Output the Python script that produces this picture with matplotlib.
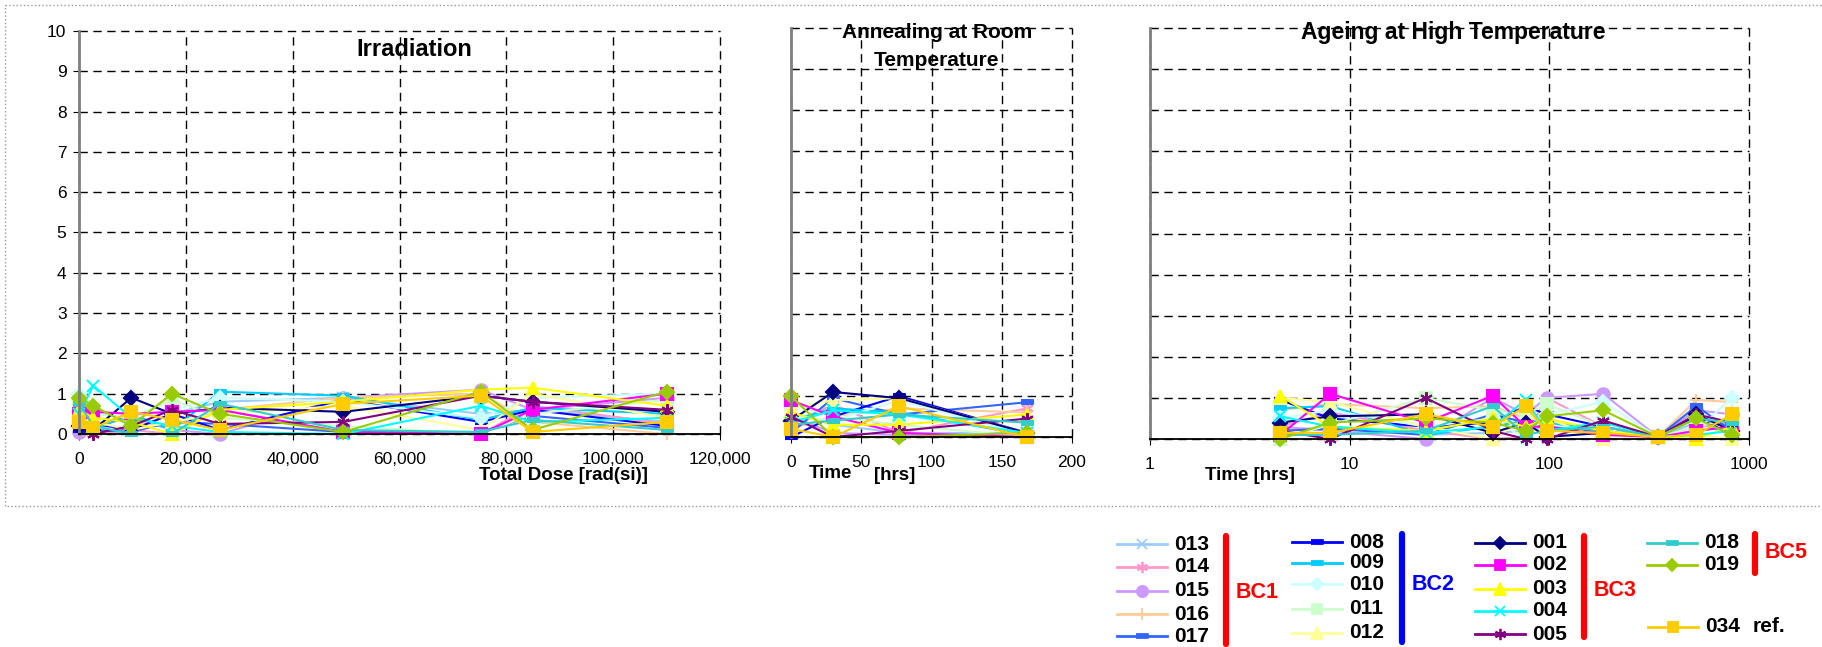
import numpy as np
import matplotlib
matplotlib.use("Agg")
import matplotlib.pyplot as plt
from matplotlib.patches import Rectangle
from matplotlib.ticker import FuncFormatter, NullLocator

plt.rcParams['font.family'] = ['Liberation Sans', 'DejaVu Sans']

# sample names, grouped as in the legend
bc1 = ['013', '014', '015', '016', '017']
bc2 = ['008', '009', '010', '011', '012']
bc3 = ['001', '002', '003', '004', '005']
bc5 = ['018', '019']
ref = ['034']
names = bc1 + bc2 + bc3 + bc5 + ref

# Irradiation: total dose [rad(si)]
dose = [0, 2700, 9800, 17400, 26400, 49500, 75200, 84900, 110100]
irr = {
    '013': [0.6, 0.3, 0.1, 0.5, 0.8, 0.9, 0.5, 0.6, 0.3],
    '014': [0.7, 0.0, 0.1, 0.0, 0.6, 0.05, 0.0, 0.7, 0.25],
    '015': [0.05, 0.2, 0.4, 0.1, 0.0, 0.9, 1.1, 0.6, 0.9],
    '016': [0.5, 0.4, 0.3, 0.2, 0.6, 0.9, 1.0, 0.3, 0.0],
    '017': [0.2, 0.1, 0.05, 0.3, 0.25, 0.05, 0.05, 0.45, 0.15],
    '008': [0.1, 0.25, 0.1, 0.5, 0.1, 0.85, 0.3, 0.6, 0.2],
    '009': [0.3, 0.1, 0.5, 0.1, 1.05, 0.95, 0.35, 0.65, 0.5],
    '010': [1.0, 0.5, 0.4, 0.6, 0.9, 0.8, 0.4, 0.9, 1.0],
    '011': [0.8, 0.5, 0.4, 0.85, 0.4, 0.2, 0.0, 0.5, 0.85],
    '012': [0.4, 0.3, 0.1, 0.3, 0.5, 0.7, 0.1, 1.0, 0.4],
    '001': [0.2, 0.1, 0.9, 0.5, 0.65, 0.55, 0.95, 0.8, 0.55],
    '002': [0.5, 0.55, 0.5, 0.55, 0.6, 0.05, 0.0, 0.6, 1.0],
    '003': [0.6, 0.4, 0.3, 0.0, 0.6, 0.8, 1.1, 1.15, 0.7],
    '004': [0.5, 1.2, 0.4, 0.2, 0.05, 0.0, 0.7, 0.3, 0.4],
    '005': [0.3, 0.0, 0.2, 0.6, 0.25, 0.3, 0.95, 0.8, 0.6],
    '018': [0.75, 0.2, 0.0, 0.0, 0.75, 0.1, 0.05, 0.35, 0.1],
    '019': [0.9, 0.7, 0.2, 1.0, 0.5, 0.05, 1.05, 0.1, 1.05],
    '034': [0.3, 0.15, 0.55, 0.35, 0.1, 0.75, 0.95, 0.05, 0.3],
}

# Annealing at room temperature: time [hrs]
t_ann = [0, 30, 77, 168]
ann = {
    '013': [0.6, 0.3, 0.1, 0.1],
    '014': [0.3, 0.8, 0.1, 0.7],
    '015': [0.5, 0.1, 0.05, 0.05],
    '016': [0.2, 0.5, 0.7, 0.6],
    '017': [0.1, 0.95, 0.55, 0.85],
    '008': [0.0, 0.5, 1.0, 0.1],
    '009': [0.4, 0.7, 0.6, 0.05],
    '010': [0.5, 0.4, 0.9, 0.05],
    '011': [0.8, 0.5, 0.3, 0.0],
    '012': [0.7, 0.9, 0.95, 0.1],
    '001': [0.4, 1.1, 0.95, 0.1],
    '002': [0.9, 0.5, 0.1, 0.0],
    '003': [0.6, 0.3, 0.3, 0.55],
    '004': [0.35, 0.65, 0.55, 0.1],
    '005': [0.5, 0.0, 0.15, 0.45],
    '018': [0.3, 0.4, 0.55, 0.35],
    '019': [1.0, 0.0, 0.0, 0.1],
    '034': [0.2, 0.0, 0.75, 0.0],
}

# Ageing at high temperature: time [hrs], log axis
t_age = [4.5, 8, 24, 52, 76, 97, 186, 350, 545, 820]
age = {
    '013': [0.2, 0.3, 0.1, 0.15, 0.2, 0.3, 0.2, 0.05, 0.4, 0.1],
    '014': [0.3, 0.65, 0.2, 0.0, 0.05, 1.0, 0.3, 0.05, 0.3, 0.4],
    '015': [0.3, 0.2, 0.0, 1.0, 0.6, 1.0, 1.1, 0.05, 0.7, 0.6],
    '016': [0.7, 0.85, 0.75, 0.8, 0.5, 0.4, 0.3, 0.05, 0.95, 0.9],
    '017': [0.2, 0.25, 0.1, 0.6, 0.4, 0.3, 0.15, 0.05, 0.8, 0.2],
    '008': [0.95, 0.5, 0.3, 0.4, 0.8, 0.6, 0.3, 0.05, 0.55, 0.1],
    '009': [0.75, 0.8, 0.1, 0.3, 0.45, 0.4, 0.2, 0.05, 0.2, 0.3],
    '010': [0.5, 0.7, 0.3, 0.5, 0.0, 0.6, 0.9, 0.05, 0.2, 1.0],
    '011': [0.0, 0.35, 1.0, 0.7, 0.6, 0.85, 0.3, 0.05, 0.3, 0.5],
    '012': [1.0, 0.9, 0.3, 0.0, 0.5, 0.5, 0.0, 0.05, 0.1, 0.0],
    '001': [0.4, 0.55, 0.6, 0.15, 0.4, 0.05, 0.15, 0.05, 0.6, 0.2],
    '002': [0.1, 1.1, 0.4, 1.05, 0.3, 0.3, 0.1, 0.05, 0.2, 0.3],
    '003': [1.05, 0.3, 0.2, 0.5, 0.3, 0.5, 0.2, 0.05, 0.0, 0.3],
    '004': [0.55, 0.3, 0.15, 0.3, 0.95, 0.2, 0.4, 0.05, 0.1, 0.2],
    '005': [0.2, 0.0, 1.0, 0.2, 0.0, 0.0, 0.45, 0.05, 0.6, 0.4],
    '018': [0.1, 0.1, 0.2, 0.8, 0.1, 0.2, 0.3, 0.05, 0.5, 0.4],
    '019': [0.0, 0.4, 0.5, 0.4, 0.2, 0.55, 0.7, 0.05, 0.5, 0.1],
    '034': [0.15, 0.15, 0.6, 0.3, 0.8, 0.2, 0.15, 0.05, 0.1, 0.6],
}

# Excel-like styles
dash = [(-1, -0.28), (1, -0.28), (1, 0.28), (-1, 0.28)]
aster = (6, 2, 0)
style = {
    '013': ('#99ccff', 'x'), '014': ('#ff99cc', aster), '015': ('#cc99ff', 'o'),
    '016': ('#ffcc99', '+'), '017': ('#3366ff', dash),
    '008': ('#0000ff', dash), '009': ('#00ccff', dash), '010': ('#ccffff', 'D'),
    '011': ('#ccffcc', 's'), '012': ('#ffff99', '^'),
    '001': ('#000080', 'D'), '002': ('#ff00ff', 's'), '003': ('#ffff00', '^'),
    '004': ('#00ffff', 'x'), '005': ('#800080', aster),
    '018': ('#33cccc', dash), '019': ('#99cc00', 'D'), '034': ('#ffcc00', 's'),
}
msize = {'x': 8, 'o': 9, '+': 9, 'D': 7, 's': 8, '^': 9}


def draw(ax, name, x, y):
    col, mk = style[name]
    ms = msize.get(mk, 9) if isinstance(mk, str) else 9
    ax.plot(x, y, color=col, marker=mk, ms=ms, mfc=col, mec=col, mew=1.5,
            lw=1.5, clip_on=False)


W, H = 1822, 647
fig = plt.figure(figsize=(W / 100, H / 100), dpi=100)


def px_axes(l, t, r, b):
    return fig.add_axes([l / W, 1 - b / H, (r - l) / W, (b - t) / H])


ax1 = px_axes(79, 31, 720, 434)
ax2 = px_axes(791, 28, 1072, 437)
ax3 = px_axes(1150, 28, 1749, 439)

for n in names:
    draw(ax1, n, dose, irr[n])
    draw(ax2, n, t_ann, ann[n])
    draw(ax3, n, t_age, age[n])

ax1.set_xlim(0, 120000)
ax1.set_xticks(np.arange(0, 120001, 20000))
ax1.xaxis.set_major_formatter(FuncFormatter(lambda v, p: f'{v:,.0f}'))
ax2.set_xlim(0, 200)
ax2.set_xticks([0, 50, 100, 150, 200])
ax3.set_xscale('log')
ax3.set_xlim(1, 1000)
ax3.set_xticks([1, 10, 100, 1000])
ax3.set_xticklabels(['1', '10', '100', '1000'])
ax3.xaxis.set_minor_locator(NullLocator())

for ax in (ax1, ax2, ax3):
    ax.set_ylim(0, 10)
    ax.set_yticks(range(11))
    ax.grid(True, color='black', linestyle=(0, (6, 4)), lw=1.0)
    ax.set_axisbelow(True)
    for s in ('top', 'right'):
        ax.spines[s].set_visible(False)
    ax.spines['left'].set_color('#808080')
    ax.spines['left'].set_linewidth(2)
    ax.spines['bottom'].set_color('black')
    ax.spines['bottom'].set_linewidth(1.3)
    ax.tick_params(axis='x', length=4, pad=9, labelsize=12.5)
    ax.tick_params(axis='y', length=4, pad=5, labelsize=12.5)
    ax.patch.set_alpha(0)

for ax in (ax2, ax3):
    ax.tick_params(axis='y', labelleft=False, direction='in')

# keep the dashed grid lines at the plot edges at full width
fig.canvas.draw()
for ax in (ax1, ax2, ax3):
    for gl in ax.get_xgridlines() + ax.get_ygridlines():
        gl.set_clip_on(False)

# overlay in pixel coordinates for titles, labels, legend and frame
ov = fig.add_axes([0, 0, 1, 1])
ov.set_xlim(0, W)
ov.set_ylim(H, 0)
ov.axis('off')
ov.add_patch(Rectangle((5, 5), W + 20, 501, fill=False, ec='#999999',
                       lw=1, ls=':'))

tkw = dict(ha='center', va='center', fontweight='bold')
ov.text(414, 49, 'Irradiation', fontsize=17, **tkw)
ov.text(937, 32, 'Annealing at Room', fontsize=15, **tkw)
ov.text(937, 60, 'Temperature', fontsize=15, **tkw)
ov.text(1453, 32, 'Ageing at High Temperature', fontsize=16.5, **tkw)
ov.text(563, 475, 'Total Dose [rad(si)]', fontsize=13.5, **tkw)
ov.text(830, 474, 'Time', fontsize=13.5, **tkw)
ov.text(895, 476, '[hrs]', fontsize=13.5, **tkw)
ov.text(1250, 476, 'Time [hrs]', fontsize=13.5, **tkw)


def legend_block(group, x0, rows):
    for n, y in zip(group, rows):
        col, mk = style[n]
        ov.plot([x0, x0 + 50], [y, y], color=col, lw=2)
        ms = msize.get(mk, 9) if isinstance(mk, str) else 9
        ov.plot([x0 + 25], [y], color=col, marker=mk, ms=ms * 0.9, mfc=col,
                mec=col, mew=1.3)
        ov.text(x0 + 57, y, n, fontsize=15, fontweight='bold', ha='left',
                va='center')


def bracket(x, y0, y1, col, label, ty):
    ov.plot([x, x], [y0, y1], color=col, lw=4.5, solid_capstyle='round')
    ov.text(x + 10, ty, label, color=col, fontsize=15.5, fontweight='bold',
            ha='left', va='center')


legend_block(bc1, 1117, [544, 567, 591, 614, 636])
bracket(1226, 536, 644, 'red', 'BC1', 592)
legend_block(bc2, 1292, [542, 563, 584, 609, 633])
bracket(1402, 534, 642, '#0000ff', 'BC2', 585)
legend_block(bc3, 1475, [543, 565, 589, 611, 634])
bracket(1584, 536, 637, 'red', 'BC3', 590)
legend_block(bc5, 1647, [543, 565])
bracket(1755, 534, 573, 'red', 'BC5', 553)
legend_block(ref, 1648, [627])
ov.text(1753, 626, 'ref.', fontsize=15, fontweight='bold', ha='left',
        va='center')

fig.savefig('out.png', dpi=100)
